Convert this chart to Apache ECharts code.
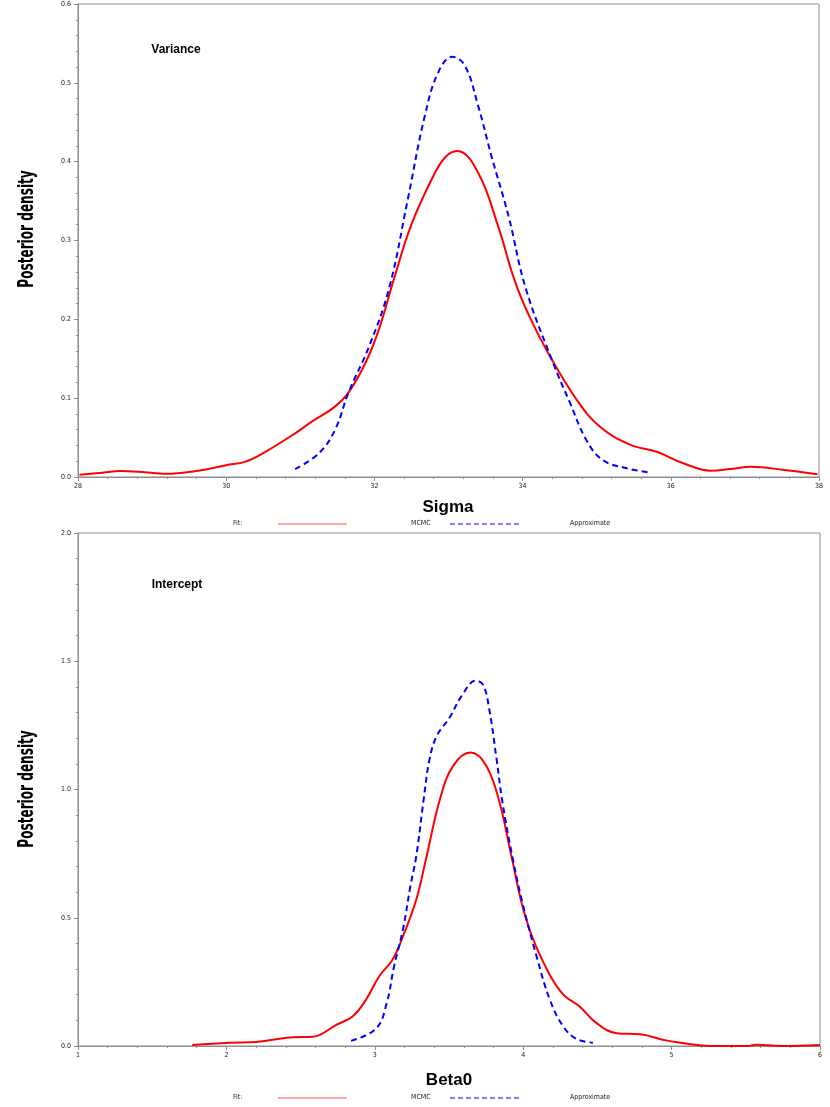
<!DOCTYPE html>
<html>
<head>
<meta charset="utf-8">
<script src="https://cdn.jsdelivr.net/npm/echarts@6.0.0/dist/echarts.min.js"></script>
<style>
  html, body { margin: 0; padding: 0; background: #fff; }
  #chart { width: 830px; height: 1107px; }
</style>
</head>
<body>
<div id="chart"></div>
<script>
/* posterior densities: Sigma (variance) and Beta0 (intercept) */
var sigmaMcmcX = [28.02, 28.3, 28.58, 28.9, 29.17, 29.62, 30.0, 30.26, 30.53, 30.94, 31.15, 31.45, 31.65, 31.88,
  32.06, 32.26, 32.49, 32.77, 32.95, 33.12, 33.40, 33.67, 33.89, 34.09, 34.37, 34.73, 35.04,
  35.45, 35.81, 36.17, 36.54, 36.8, 37.08, 37.53, 37.98];
var sigmaMcmcY = [0.003, 0.005, 0.0076, 0.006, 0.004, 0.008, 0.015, 0.0195, 0.032, 0.056, 0.070, 0.088, 0.107, 0.145,
  0.187, 0.250, 0.318, 0.377, 0.405, 0.4135, 0.386, 0.318, 0.250, 0.204, 0.153, 0.098, 0.064,
  0.041, 0.032, 0.0174, 0.008, 0.010, 0.013, 0.0089, 0.0034];

var sigmaApproxX = [30.93, 31.25, 31.47, 31.65, 31.93, 32.2, 32.45, 32.68, 32.86, 33.05, 33.22, 33.40, 33.58,
  33.81, 34.04, 34.41, 34.64, 34.86, 35.08, 35.41, 35.69];
var sigmaApproxY = [0.010, 0.030, 0.060, 0.107, 0.166, 0.240, 0.352, 0.458, 0.513, 0.533, 0.522, 0.471, 0.407,
  0.331, 0.240, 0.145, 0.094, 0.047, 0.0216, 0.011, 0.006];

var betaMcmcX = [1.77, 2.02, 2.20, 2.45, 2.58, 2.63, 2.74, 2.85, 2.94, 3.03, 3.12, 3.19, 3.28, 3.35, 3.44, 3.53,
  3.645, 3.75, 3.84, 3.92, 4.02, 4.16, 4.27, 4.38, 4.49, 4.63, 4.79, 4.97, 5.28, 5.51, 5.57, 5.74, 6.0];
var betaMcmcY = [0.004, 0.013, 0.016, 0.034, 0.036, 0.043, 0.082, 0.115, 0.180, 0.272, 0.337, 0.428, 0.572, 0.742,
  0.964, 1.094, 1.144, 1.094, 0.951, 0.742, 0.494, 0.298, 0.200, 0.154, 0.091, 0.050, 0.046, 0.021, 0.000,
  0.000, 0.005, 0.000, 0.004];

var betaApproxX = [2.84, 3.01, 3.08, 3.13, 3.19, 3.24, 3.28, 3.33, 3.37, 3.42, 3.50, 3.59, 3.68, 3.73, 3.77,
  3.82, 3.86, 3.93, 4.00, 4.09, 4.18, 4.27, 4.36, 4.47];
var betaApproxY = [0.020, 0.069, 0.167, 0.311, 0.455, 0.624, 0.742, 0.964, 1.121, 1.212, 1.277, 1.369, 1.424,
  1.408, 1.317, 1.121, 0.951, 0.729, 0.546, 0.350, 0.180, 0.076, 0.027, 0.013];

var panelTitles = ["Variance", "Intercept"];
var axisNames = ["Sigma", "Beta0"];
var yTitle = "Posterior density";
var legendTitle = "Fit:";
var seriesNames = ["MCMC", "Approximate"];

var RED = "#ff0000", BLUE = "#0000ff", GRAY = "#8c8c8c";
var SANS = "Liberation Sans, Arial, sans-serif";
var NARROW = "Liberation Sans Narrow, Arial Narrow, DejaVu Sans Condensed, sans-serif";

function pairs(xs, ys) {
  return xs.map(function (x, i) { return [x, ys[i]]; });
}

function xAxisOf(gi, min, max, step) {
  return {
    type: "value", gridIndex: gi, min: min, max: max, interval: step,
    axisLine: { lineStyle: { color: GRAY, width: 1 } },
    axisTick: { length: 4, lineStyle: { color: GRAY } },
    minorTick: { show: true, splitNumber: 5, length: 2, lineStyle: { color: GRAY } },
    axisLabel: { color: "#222", fontSize: 7, fontFamily: NARROW, margin: 6 },
    splitLine: { show: false }
  };
}

function yAxisOf(gi, max, step) {
  return {
    type: "value", gridIndex: gi, min: 0, max: max, interval: step,
    axisLine: { show: true, lineStyle: { color: GRAY, width: 1 } },
    axisTick: { show: true, length: 4, lineStyle: { color: GRAY } },
    minorTick: { show: true, splitNumber: 5, length: 2, lineStyle: { color: GRAY } },
    axisLabel: { color: "#222", fontSize: 7, fontFamily: NARROW, margin: 7,
      formatter: function (v) { return v.toFixed(1); } },
    splitLine: { show: false }
  };
}

function lineSeries(name, gi, data, color, dashed) {
  return {
    name: name, type: "line", xAxisIndex: gi, yAxisIndex: gi, data: data,
    smooth: 0.4, showSymbol: false, silent: true,
    lineStyle: { color: color, width: 2, type: dashed ? [6, 4] : "solid" },
    itemStyle: { color: color }
  };
}

function legendAt(y) {
  return [
    { type: "text", left: 233, top: y - 4, style: { text: legendTitle, fontSize: 7, fontFamily: NARROW, fill: "#222" } },
    { type: "line", shape: { x1: 278, y1: y, x2: 347, y2: y }, style: { stroke: "#ff5050", lineWidth: 1 } },
    { type: "text", left: 411, top: y - 4, style: { text: seriesNames[0], fontSize: 7, fontFamily: NARROW, fill: "#222" } },
    { type: "line", shape: { x1: 450, y1: y, x2: 519, y2: y }, style: { stroke: BLUE, lineWidth: 1, lineDash: [5, 3] } },
    { type: "text", left: 570, top: y - 4, style: { text: seriesNames[1], fontSize: 7, fontFamily: NARROW, fill: "#222" } }
  ];
}

function textAt(x, y, txt, size, weight, font, rot, sx) {
  return {
    type: "text", x: x, y: y, rotation: rot || 0, scaleX: sx || 1,
    style: { text: txt, fontSize: size, fontWeight: weight, fontFamily: font, fill: "#000",
      align: "center", verticalAlign: "middle" }
  };
}

var chart = echarts.init(document.getElementById("chart"), null, { renderer: "canvas" });

chart.setOption({
  backgroundColor: "#ffffff",
  animation: false,
  grid: [
    { left: 78, top: 4, width: 741, height: 473, show: true, borderColor: GRAY, borderWidth: 1, backgroundColor: "transparent" },
    { left: 78, top: 533, width: 742, height: 513, show: true, borderColor: GRAY, borderWidth: 1, backgroundColor: "transparent" }
  ],
  xAxis: [xAxisOf(0, 28, 38, 2), xAxisOf(1, 1, 6, 1)],
  yAxis: [yAxisOf(0, 0.6, 0.1), yAxisOf(1, 2.0, 0.5)],
  series: [
    lineSeries(seriesNames[0], 0, pairs(sigmaMcmcX, sigmaMcmcY), RED, false),
    lineSeries(seriesNames[1], 0, pairs(sigmaApproxX, sigmaApproxY), BLUE, true),
    lineSeries(seriesNames[0], 1, pairs(betaMcmcX, betaMcmcY), RED, false),
    lineSeries(seriesNames[1], 1, pairs(betaApproxX, betaApproxY), BLUE, true)
  ],
  graphic: [
    textAt(176, 50, panelTitles[0], 12, "bold", SANS),
    textAt(177, 585, panelTitles[1], 12, "bold", SANS),
    textAt(448, 507, axisNames[0], 17, "bold", SANS),
    textAt(449, 1080, axisNames[1], 17, "bold", SANS),
    textAt(28, 229, yTitle, 21, "bold", NARROW, Math.PI / 2, 0.64),
    textAt(28, 789, yTitle, 21, "bold", NARROW, Math.PI / 2, 0.64)
  ].concat(legendAt(524), legendAt(1098))
});
</script>
</body>
</html>
